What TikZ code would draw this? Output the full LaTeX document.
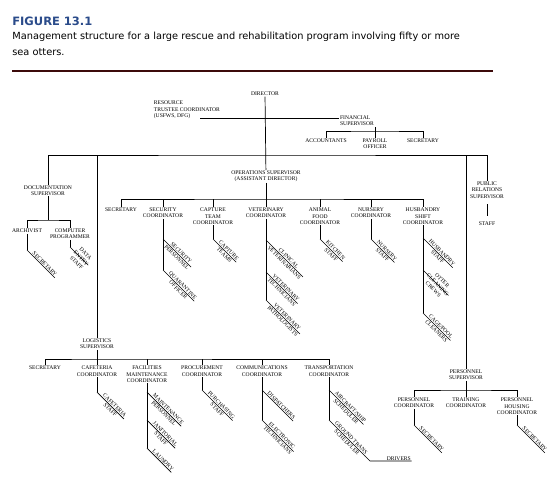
\documentclass[tikz,border=0pt]{standalone}
\usepackage{fontspec}
\usepackage{xcolor}
\usepackage{tikz}
\usetikzlibrary{positioning,calc}
\newfontfamily\headfont{DejaVu Sans}
\newfontfamily\chartfont{Liberation Serif}
\definecolor{figblue}{RGB}{42,75,138}
\definecolor{rulered}{RGB}{60,10,10}
\tikzset{
  lbl/.style={font=\chartfont\fontsize{5.6}{6.3}\selectfont, align=center, inner sep=0.5pt},
  sub/.style={lbl, rotate=-45, anchor=west},
  subone/.style={lbl, rotate=-45, anchor=south west},
}

\begin{document}
\begin{tikzpicture}[x=1pt, y=-1pt, line width=0.7pt]
    \fill[white] (0,0) rectangle (550,483);
    \useasboundingbox (0,0) rectangle (550,483);

    % Heading
    \node[font=\headfont\bfseries\fontsize{11.5}{13}\selectfont, text=figblue, anchor=base west, inner sep=0] (fig) at (12,25) {FIGURE 13.1};
    \node[font=\headfont\fontsize{9.8}{15.5}\selectfont, align=left, anchor=north west, inner sep=0] (cap) at (12,32.1) {Management structure for a large rescue and rehabilitation program involving fifty or more\\sea otters.};
    \draw[rulered, line width=2pt] (12,71) -- (493,71);

    % Director and financial
    \node[lbl] (dir) at (265,94) {DIRECTOR};
    \node[lbl, align=left, anchor=west] (res) at (153,110) {RESOURCE\\TRUSTEE COORDINATOR\\(USFWS, DFG)};
    \node[lbl, align=left] (fin) at (357,121) {FINANCIAL\\SUPERVISOR};
    \node[lbl] (acc) at (326,141) {ACCOUNTANTS};
    \node[lbl] (pay) at (375,144) {PAYROLL\\OFFICER};
    \node[lbl] (fsec) at (423,141) {SECRETARY};
    \coordinate (resend) at (200,118.5);
    \coordinate (finbus) at (375,131);
    \draw (resend) -- (fin.west |- resend);
    \draw (acc.north) |- (finbus) -| (fsec.north);
    \draw (pay.north) -- (pay.north |- fin.south);

    % Supervisors on the main line
    \coordinate (bus) at (266,155);
    \node[lbl] (doc) at (48,190.5) {DOCUMENTATION\\SUPERVISOR};
    \node[lbl] (ops) at (266,176.5) {OPERATIONS SUPERVISOR\\(ASSISTANT DIRECTOR)};
    \node[lbl] (pr) at (487,190) {PUBLIC\\RELATIONS\\SUPERVISOR};
    \node[lbl] (prstaff) at (487,224) {STAFF};
    \node[lbl] (log) at (97,344) {LOGISTICS\\SUPERVISOR};
    \node[lbl] (pers) at (466,375) {PERSONNEL\\SUPERVISOR};
    \draw (dir) -- (ops);
    \draw (doc.north) |- (bus) -| (pr.north);
    \draw (log.north |- bus) -- (log.north);
    \draw (pers.north |- bus) -- (pers.north);
    \draw[shorten <=5pt, shorten >=5pt] (pr) -- (prstaff);

    % Documentation
    \coordinate (docbus) at (48,220);
    \node[lbl] (arch) at (27,231) {ARCHIVIST};
    \node[lbl] (prog) at (70,234) {COMPUTER\\PROGRAMMER};
    \draw (doc) -- (docbus);
    \draw (arch.north) |- (docbus) -| (prog.north);

    % Operations
    \coordinate (opsbus) at (266,199);
    \node[lbl] (osec) at (121,210) {SECRETARY};
    \node[lbl] (secco) at (163,213) {SECURITY\\COORDINATOR};
    \node[lbl] (capco) at (213,216.3) {CAPTURE\\TEAM\\COORDINATOR};
    \node[lbl] (vetco) at (266,213) {VETERINARY\\COORDINATOR};
    \node[lbl] (foodco) at (320,216.3) {ANIMAL\\FOOD\\COORDINATOR};
    \node[lbl] (nurco) at (371,213) {NURSERY\\COORDINATOR};
    \node[lbl] (husco) at (423,216.3) {HUSBANDRY\\SHIFT\\COORDINATOR};
    \draw (osec.north) |- (opsbus) -| (husco.north);
    \draw (ops) -- (vetco);
    \foreach \n in {secco,capco,foodco,nurco}
        \draw (\n.north) -- (\n.north |- opsbus);

    % Logistics
    \coordinate (logbus) at (97,359);
    \node[lbl] (lsec) at (45,368) {SECRETARY};
    \node[lbl] (cafco) at (97,371.2) {CAFETERIA\\COORDINATOR};
    \node[lbl] (facco) at (147,374.3) {FACILITIES\\MAINTENANCE\\COORDINATOR};
    \node[lbl] (proco) at (202,371.2) {PROCUREMENT\\COORDINATOR};
    \node[lbl] (comco) at (262,371.2) {COMMUNICATIONS\\COORDINATOR};
    \node[lbl] (traco) at (329,371.2) {TRANSPORTATION\\COORDINATOR};
    \draw (lsec.north) |- (logbus) -| (traco.north);
    \draw (log) -- (cafco);
    \foreach \n in {facco,proco,comco}
        \draw (\n.north) -- (\n.north |- logbus);

    % Personnel
    \coordinate (perbus) at (466,390);
    \node[lbl] (perco) at (414,403) {PERSONNEL\\COORDINATOR};
    \node[lbl] (trnco) at (466,403) {TRAINING\\COORDINATOR};
    \node[lbl] (houco) at (517,406.3) {PERSONNEL\\HOUSING\\COORDINATOR};
    \draw (perco.north) |- (perbus) -| (houco.north);
    \draw (pers) -- (trnco);

    % Staff under the coordinators
    \foreach \n/\x/\y/\txt in {
        dent/70/247/{DATA\\ENTRY\\STAFF},
        spers/163/239/{SECURITY\\PERSONNEL},
        quar/163/270/{QUARANTINE\\OFFICER},
        capt/213/239/{CAPTURE\\TEAMS},
        clin/266/240/{CLINICAL\\VETERINARIANS},
        vtech/266/272/{VETERINARY\\TECHNICIANS},
        vpath/266/300/{VETERINARY\\PATHOLOGISTS},
        kitch/320/239/{KITCHEN\\STAFF},
        nurs/371/239/{NURSERY\\STAFF},
        hstaff/423/238/{HUSBANDRY\\STAFF},
        otter/423/270/{OTTER\\CLEANING\\CREWS},
        cage/423/313/{CAGE/POOL\\CLEANERS},
        caf/97/392/{CAFETERIA\\STAFF},
        maint/147/392/{MAINTENANCE\\PERSONNEL},
        jan/147/420/{JANITORIAL\\STAFF},
        purch/202/390/{PURCHASING\\STAFF},
        elec/262/420/{ELECTRONIC\\TECHNICIANS},
        air/329/390/{AIRCRAFT/SHIP\\SCHEDULER},
        gts/329/420/{GROUND TRANS\\SCHEDULER}}{
        \coordinate (\n-b) at (\x,\y);
        \node[sub] (\n) at (\x+4,\y+4) {\txt};
        \draw (\n-b) -- (\n.east);
    }
    \foreach \n/\x/\y/\txt in {
        asec/27/250/SECRETARY,
        laun/147/448/LAUNDRY,
        disp/262/390/DISPATCHERS,
        psec/414/425/SECRETARY,
        hsec/517/425/SECRETARY}{
        \coordinate (\n-b) at (\x,\y);
        \node[subone] (\n) at (\x+4,\y+4) {\txt};
        \draw (\n-b) -- (\n.south east);
    }

    % Verticals down to the last staff line
    \draw (arch) -- (asec-b);
    \draw (prog) -- (dent-b);
    \draw (secco) -- (quar-b);
    \draw (capco) -- (capt-b);
    \draw (vetco) -- (vpath-b);
    \draw (foodco) -- (kitch-b);
    \draw (nurco) -- (nurs-b);
    \draw (husco) -- (cage-b);
    \draw (cafco) -- (caf-b);
    \draw (facco) -- (laun-b);
    \draw (proco) -- (purch-b);
    \draw (comco) -- (elec-b);
    \draw (traco) -- (gts-b);
    \draw (perco) -- (psec-b);
    \draw (houco) -- (hsec-b);

    % Drivers
    \coordinate (drvc) at (370,461);
    \node[lbl, anchor=south west] (drv) at (386,461) {DRIVERS};
    \draw (gts.east) -- (drvc) -- (drv.south east);
\end{tikzpicture}
\end{document}
